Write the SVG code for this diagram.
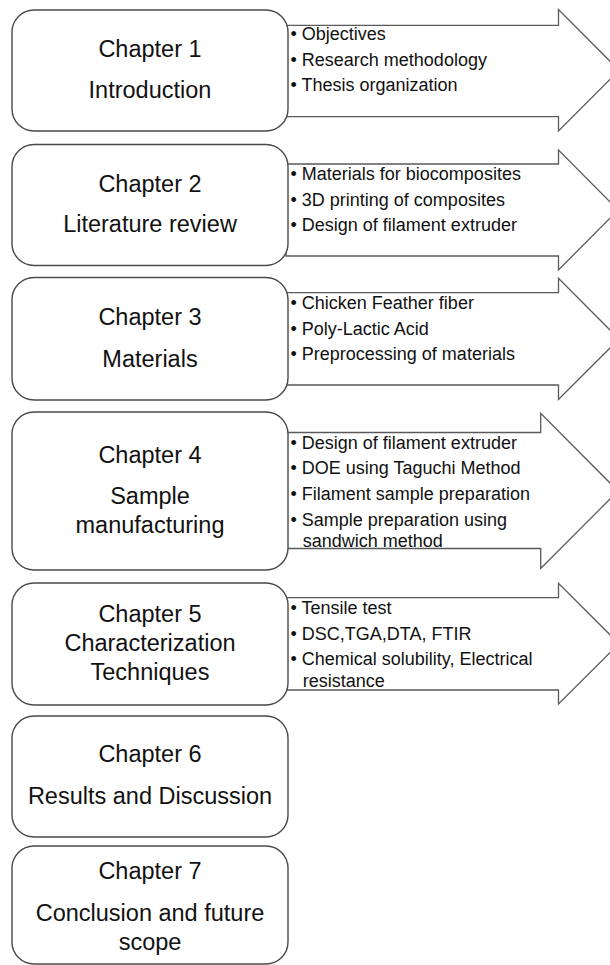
<svg xmlns="http://www.w3.org/2000/svg" width="610" height="965" viewBox="0 0 610 965">
<style>
.box{fill:#fff;stroke:#4a4a4a;stroke-width:1.4}
.arr{fill:#fff;stroke:#5a5a5a;stroke-width:1.3;stroke-linejoin:miter}
.t{font-family:"Liberation Sans",Arial,sans-serif;font-size:23.5px;fill:#111;text-anchor:middle}
.b{font-family:"Liberation Sans",Arial,sans-serif;font-size:18px;fill:#111}
</style>
<rect width="610" height="965" fill="#fff"/>
<g id="connectors">
<path class="arr" d="M286,25.3 H558.5 V9.5 L619,70.3 L558.5,131 V116.7 H286 Z"/>
<path class="arr" d="M286,164 H558.5 V150 L618,210 L558.5,270 V256 H286 Z"/>
<path class="arr" d="M286,292.7 H558.5 V278.3 L619,339 L558.5,399.5 V385 H286 Z"/>
<path class="arr" d="M286,432.5 H540.7 V413.3 L618,491 L540.7,568.5 V548.5 H286 Z"/>
<path class="arr" d="M286,597.7 H558.5 V583.3 L619,643.7 L558.5,704 V690 H286 Z"/>
</g>
<g id="ch1">
<rect class="box" x="12" y="10" width="276" height="121" rx="22"/>
<text class="t" x="150" y="57">Chapter 1</text>
<text class="t" x="150" y="98">Introduction</text>
</g>
<g id="ch1-items">
<text class="b" x="290.5" y="40">• Objectives</text>
<text class="b" x="290.5" y="66">• Research methodology</text>
<text class="b" x="290.5" y="91">• Thesis organization</text>
</g>
<g id="ch2">
<rect class="box" x="12" y="144.5" width="276" height="121" rx="22"/>
<text class="t" x="150" y="192">Chapter 2</text>
<text class="t" x="150" y="232">Literature review</text>
</g>
<g id="ch2-items">
<text class="b" x="290.5" y="180">• Materials for biocomposites</text>
<text class="b" x="290.5" y="205.7">• 3D printing of composites</text>
<text class="b" x="290.5" y="230.7">• Design of filament extruder</text>
</g>
<g id="ch3">
<rect class="box" x="12" y="277.5" width="276" height="122.5" rx="22"/>
<text class="t" x="150" y="325">Chapter 3</text>
<text class="t" x="150" y="366.7">Materials</text>
</g>
<g id="ch3-items">
<text class="b" x="290.5" y="309">• Chicken Feather fiber</text>
<text class="b" x="290.5" y="335">• Poly-Lactic Acid</text>
<text class="b" x="290.5" y="360">• Preprocessing of materials</text>
</g>
<g id="ch4">
<rect class="box" x="12" y="412" width="276" height="158" rx="22"/>
<text class="t" x="150" y="462.7">Chapter 4</text>
<text class="t" x="150" y="504.3">Sample</text>
<text class="t" x="150" y="533.3">manufacturing</text>
</g>
<g id="ch4-items">
<text class="b" x="290.5" y="449">• Design of filament extruder</text>
<text class="b" x="290.5" y="474.3">• DOE using Taguchi Method</text>
<text class="b" x="290.5" y="500">• Filament sample preparation</text>
<text class="b" x="290.5" y="525.5">• Sample preparation using</text>
<text class="b" x="302.7" y="546.7">sandwich method</text>
</g>
<g id="ch5">
<rect class="box" x="12" y="583" width="276" height="122" rx="22"/>
<text class="t" x="150" y="621.7">Chapter 5</text>
<text class="t" x="150" y="650.7">Characterization</text>
<text class="t" x="150" y="680">Techniques</text>
</g>
<g id="ch5-items">
<text class="b" x="290.5" y="614.3">• Tensile test</text>
<text class="b" x="290.5" y="640">• DSC,TGA,DTA, FTIR</text>
<text class="b" x="290.5" y="665.3">• Chemical solubility, Electrical</text>
<text class="b" x="302.7" y="687.3">resistance</text>
</g>
<g id="ch6">
<rect class="box" x="12" y="716" width="276" height="121" rx="22"/>
<text class="t" x="150" y="762.3">Chapter 6</text>
<text class="t" x="150" y="804">Results and Discussion</text>
</g>
<g id="ch7">
<rect class="box" x="12" y="846" width="276" height="118" rx="22"/>
<text class="t" x="150" y="879.3">Chapter 7</text>
<text class="t" x="150" y="920.7">Conclusion and future</text>
<text class="t" x="150" y="950">scope</text>
</g>
</svg>
